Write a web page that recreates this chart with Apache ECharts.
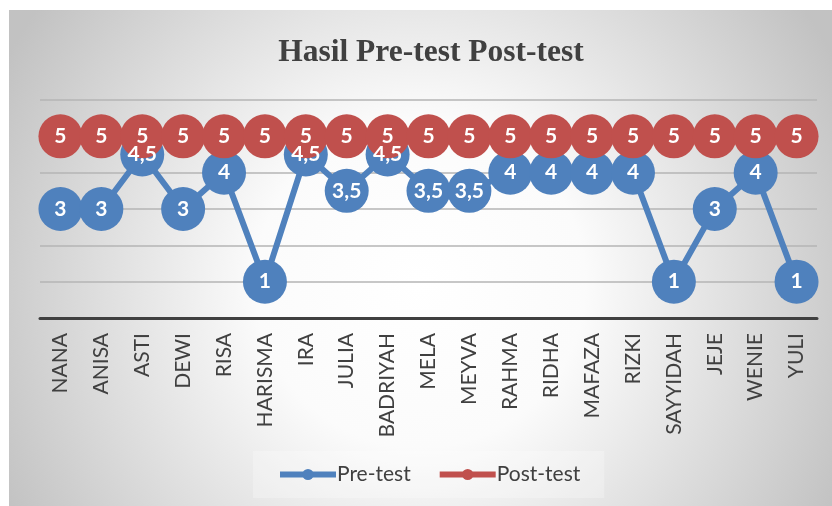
<!DOCTYPE html>
<html>
<head>
<meta charset="utf-8">
<script src="https://cdn.jsdelivr.net/npm/echarts@6/dist/echarts.min.js"></script>
<style>
html,body{margin:0;padding:0;background:#ffffff;}
#chart{position:absolute;left:9px;top:10px;width:823px;height:496px;}
</style>
</head>
<body>
<div id="chart"></div>
<script>
const categories = ["NANA","ANISA","ASTI","DEWI","RISA","HARISMA","IRA","JULIA","BADRIYAH","MELA","MEYVA","RAHMA","RIDHA","MAFAZA","RIZKI","SAYYIDAH","JEJE","WENIE","YULI"];
const preTest = [3,3,4.5,3,4,1,4.5,3.5,4.5,3.5,3.5,4,4,4,4,1,3,4,1];
const postTest = [5,5,5,5,5,5,5,5,5,5,5,5,5,5,5,5,5,5,5];
const seriesNames = ["Pre-test","Post-test"];
const titleText = "Hasil Pre-test Post-test";

const chart = echarts.init(document.getElementById('chart'));
const fmt = p => String(p.value).replace('.', ',');
const labelStyle = {show:true, position:'inside', color:'#ffffff', fontFamily:'Lato', fontWeight:'bold', fontSize:21, formatter: fmt};

chart.setOption({
  animation:false,
  backgroundColor:{type:'radial', x:0.5, y:0.55, r:0.95, colorStops:[
    {offset:0, color:'#ffffff'},{offset:0.35, color:'#fbfbfb'},{offset:1, color:'#c2c2c2'}]},
  title:{text:titleText, left:417, textAlign:'center', top:22,
    textStyle:{fontFamily:'Liberation Serif', fontWeight:'bold', fontSize:31.5, color:'#404040'}},
  legend:{data:seriesNames, left:244, top:441, padding:[13,24], itemGap:26, itemWidth:56, itemHeight:14,
    backgroundColor:'rgba(255,255,255,0.25)',
    lineStyle:{width:6},
    textStyle:{fontFamily:'Lato', fontSize:21, color:'#404040', padding:[0,0,0,-4]}},
  grid:{left:31, right:15, top:90, bottom:188},
  xAxis:{type:'category', data:categories, boundaryGap:true,
    axisLine:{lineStyle:{color:'#404040', width:3}},
    axisTick:{show:false},
    axisLabel:{rotate:90, interval:0, margin:15, fontFamily:'Lato', fontSize:21, color:'#404040'}},
  yAxis:{type:'value', min:0, max:6, interval:1, axisLabel:{show:false},
    axisLine:{show:false}, axisTick:{show:false},
    splitLine:{lineStyle:{color:'#b4b4b4', width:1.5}}},
  series:[
    {name:seriesNames[0], type:'line', data:preTest, symbol:'circle', symbolSize:44,
      itemStyle:{color:'#4f81bd'}, lineStyle:{color:'#4f81bd', width:6}, label:labelStyle},
    {name:seriesNames[1], type:'line', data:postTest, symbol:'circle', symbolSize:44,
      itemStyle:{color:'#c0504d'}, lineStyle:{color:'#c0504d', width:6}, label:labelStyle}
  ]
});
</script>
</body>
</html>
